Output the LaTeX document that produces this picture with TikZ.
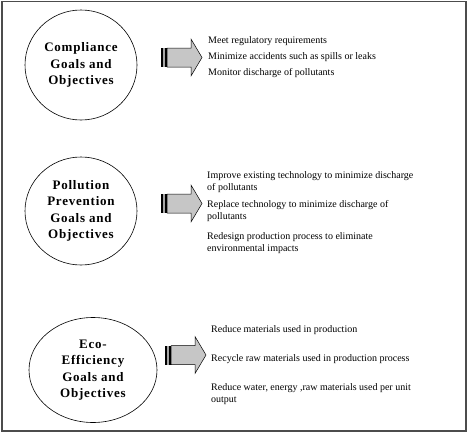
\documentclass[tikz,border=0pt]{standalone}
\usepackage{fontspec}
\setmainfont{Liberation Serif}
\usetikzlibrary{shapes.geometric}
\tikzset{
  goal/.style={draw, ellipse, line width=0.6pt, inner sep=0pt, align=center,
    font=\fontsize{13}{16.5}\selectfont\bfseries\addfontfeature{LetterSpace=6}},
  item/.style={anchor=west, inner sep=0pt, align=left,
    font=\fontsize{10}{12}\selectfont},
  pics/striped/.style={code={
    \fill[black] (0,-9.5) rectangle (2,9.5);
    \fill[gray!70] (2,-9.5) rectangle (4,9.5);
    \fill[black] (4,-9.5) rectangle (6,9.5);
    \draw[fill=gray!45, line width=0.5pt] (6,-9.5) -- (30,-9.5) -- (30,-18.5) -- (41,0)
      -- (30,18.5) -- (30,9.5) -- (6,9.5) -- cycle;
  }}
}
\begin{document}
\begin{tikzpicture}[x=1pt,y=-1pt]
\useasboundingbox (0,0) rectangle (469,434);
\draw[gray!60!black, line width=1.5pt] (2,1.5) rectangle (466,431);

% block 1
\node[goal, minimum width=112pt, minimum height=110pt] (g1) at (81,65)
  {Compliance\\Goals and\\Objectives};
\pic at (161,57.5) {striped};
\node[item] (t11) at (208,41) {Meet regulatory requirements};
\node[item] (t12) at (208,57) {Minimize accidents such as spills or leaks};
\node[item] (t13) at (208,73) {Monitor discharge of pollutants};

% block 2
\node[goal, minimum width=112pt, minimum height=108pt] (g2) at (81,211)
  {Pollution\\Prevention\\Goals and\\Objectives};
\pic at (161,203.5) {striped};
\node[item] (t21) at (207,182.5) {Improve existing technology to minimize discharge\\of pollutants};
\node[item] (t22) at (207,211) {Replace technology to minimize discharge of\\pollutants};
\node[item] (t23) at (207,243) {Redesign production process to eliminate\\environmental impacts};

% block 3
\node[goal, minimum width=128pt, minimum height=105pt] (g3) at (93,370)
  {Eco-\\Efficiency\\Goals and\\Objectives};
\pic at (165,355) {striped};
\node[item] (t31) at (211,330) {Reduce materials used in production};
\node[item] (t32) at (211,359) {Recycle raw materials used in production process};
\node[item] (t33) at (211,394.5) {Reduce water, energy ,raw materials used per unit\\output};
\end{tikzpicture}
\end{document}
